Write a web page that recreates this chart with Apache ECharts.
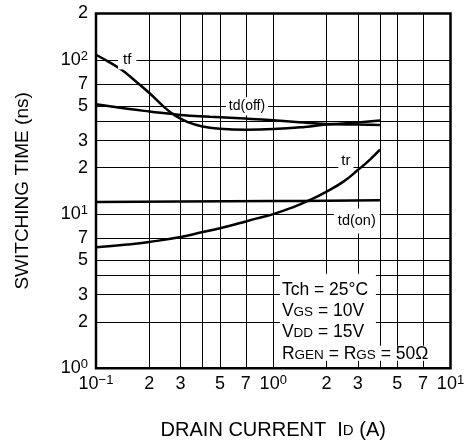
<!DOCTYPE html>
<html>
<head>
<meta charset="utf-8">
<script src="https://cdn.jsdelivr.net/npm/echarts@6/dist/echarts.min.js"></script>
<style>
  html, body { margin: 0; padding: 0; background: #fff; }
  #chart { width: 469px; height: 443px; }
</style>
</head>
<body>
<div id="chart"></div>
<script>
// Switching time (ns) versus drain current (A), one pair of arrays per curve
const tfCurrent = [0.1, 0.12, 0.14, 0.16, 0.2, 0.24, 0.28, 0.33, 0.4, 0.5, 0.7, 1.0, 1.5, 2, 3, 4];
const tfTime    = [108, 96, 86, 76, 61, 50, 43.5, 39.5, 37, 35.8, 35.3, 35.6, 36.7, 38.1, 39.3, 40.5];

const tdOffCurrent = [0.1, 0.15, 0.2, 0.3, 0.44, 0.65, 1.0, 1.4, 2, 3, 4];
const tdOffTime    = [51.5, 48.2, 46.3, 44, 42.8, 41.8, 40.6, 39.4, 38.4, 38.1, 37.9];

const trCurrent = [0.1, 0.15, 0.2, 0.3, 0.4, 0.5, 0.65, 0.8, 1.0, 1.3, 1.6, 2, 2.5, 3, 3.5, 4];
const trTime    = [6.1, 6.35, 6.6, 7.1, 7.65, 8.1, 8.75, 9.35, 10.0, 11.1, 12.3, 14.0, 16.3, 19.3, 22.5, 26.2];

const tdOnCurrent = [0.1, 0.3, 1, 2, 4];
const tdOnTime    = [12.0, 12.05, 12.15, 12.2, 12.3];

// Grid lines and labelled ticks of the two log axes
const xGridValues  = [0.1, 0.2, 0.3, 0.4, 0.5, 0.7, 1, 2, 3, 4, 5, 7, 10];
const xLabelValues = [0.1, 0.2, 0.3, 0.5, 0.7, 1, 2, 3, 5, 7, 10];
const yGridValues  = [1, 2, 3, 4, 5, 7, 10, 20, 30, 40, 50, 70, 100, 200];
const yLabelValues = [1, 2, 3, 5, 7, 10, 20, 30, 50, 70, 100, 200];

const FONT = '"Liberation Sans", Arial, Helvetica, sans-serif';
const lg = v => Math.log10(v);
const toPairs = (xs, ys) => xs.map((x, i) => [lg(x), lg(ys[i])]);

// Decade ticks as 10 with a superscript exponent, others as the mantissa
function tickText(v) {
  const e = Math.floor(v + 1e-9);
  const m = Math.round(Math.pow(10, v - e));
  if (m === 1) return '{b|10}{s|' + (e < 0 ? '\u2212' + (-e) : e) + '}';
  return '{b|' + m + '}';
}
const tickRich = {
  b: { fontSize: 18, lineHeight: 20, fontFamily: FONT, color: '#000' },
  s: { fontSize: 13, lineHeight: 13, fontFamily: FONT, color: '#000', verticalAlign: 'top' }
};

// Small capitals sitting on the main baseline (G S, D D, G E N)
const smallCaps = { fontSize: 13, lineHeight: 20, fontFamily: FONT, verticalAlign: 'middle', padding: [2, 0, 0, 0] };

const chart = echarts.init(document.getElementById('chart'), null, { renderer: 'canvas' });

const curveStyle = { color: '#000', width: 2.5 };
function curve(name, xs, ys) {
  return {
    name, type: 'line', data: toPairs(xs, ys),
    showSymbol: false, smooth: 0.5,
    lineStyle: curveStyle, z: 5, silent: true
  };
}

chart.setOption({
  animation: false,
  backgroundColor: '#fff',
  grid: {
    left: 96, top: 13.5, width: 354.5, height: 354.8,
    show: true, borderColor: '#000', borderWidth: 2.5, backgroundColor: 'transparent',
    containLabel: false, outerBoundsMode: 'none'
  },
  xAxis: {
    type: 'value', min: lg(0.1), max: lg(10),
    axisLine: { show: false },
    axisTick: { show: false, customValues: xGridValues.map(lg) },
    splitLine: { show: true, lineStyle: { color: '#000', width: 1 } },
    axisLabel: {
      customValues: xLabelValues.map(lg), margin: 6,
      formatter: tickText, rich: tickRich, color: '#000'
    },
    name: 'DRAIN CURRENT  I{s|D} (A)',
    nameLocation: 'middle', nameGap: 50,
    nameTextStyle: {
      color: '#000', fontSize: 20, fontFamily: FONT, lineHeight: 24,
      rich: { s: Object.assign({}, smallCaps, { fontSize: 15, lineHeight: 24, color: '#000' }) }
    }
  },
  yAxis: {
    type: 'value', min: lg(1), max: lg(200),
    axisLine: { show: false },
    axisTick: { show: false, customValues: yGridValues.map(lg) },
    splitLine: { show: true, lineStyle: { color: '#000', width: 1 } },
    axisLabel: {
      customValues: yLabelValues.map(lg), margin: 8,
      formatter: tickText, rich: tickRich, color: '#000'
    },
    name: 'SWITCHING TIME (ns)',
    nameLocation: 'middle', nameGap: 64, nameRotate: 90,
    nameTextStyle: { color: '#000', fontSize: 19, fontFamily: FONT }
  },
  series: [
    curve('tf', tfCurrent, tfTime),
    curve('td(off)', tdOffCurrent, tdOffTime),
    curve('tr', trCurrent, trTime),
    curve('td(on)', tdOnCurrent, tdOnTime)
  ]
});

// Curve names and test conditions, placed in data space
const px = (x, y) => chart.convertToPixel({ gridIndex: 0 }, [lg(x), lg(y)]);

function tag(text, x, y, size, pad) {
  const p = px(x, y);
  return {
    type: 'text', x: p[0], y: p[1], z: 100, silent: true,
    style: {
      text, fontSize: size, fontFamily: FONT, fill: '#000',
      align: 'center', verticalAlign: 'middle',
      backgroundColor: '#fff', padding: pad
    }
  };
}

const corner = px(1.09, 4.1);
const rowStyle = (text, dy) => ({
  type: 'text', x: corner[0] + 2, y: corner[1] + dy, z: 101, silent: true,
  style: {
    text, fontSize: 17.5, fontFamily: FONT, fill: '#000', lineHeight: 20,
    align: 'left', verticalAlign: 'middle',
    rich: { s: Object.assign({}, smallCaps, { fontSize: 13.5, fill: '#000' }) }
  }
});

chart.setOption({
  graphic: [
    tag('tf', 0.150, 100, 15, [2, 5]),
    tag('td(off)', 0.711, 50, 14, [2, 3]),
    tag('tr', 2.57, 22.3, 15, [2, 3]),
    tag('td(on)', 2.96, 9.02, 14.5, [5, 4]),
    { type: 'rect', z: 99, silent: true,
      shape: { x: corner[0], y: corner[1], width: 96, height: 72 },
      style: { fill: '#fff' } },
    { type: 'rect', z: 99, silent: true,
      shape: { x: corner[0], y: corner[1] + 72, width: 152, height: 15 },
      style: { fill: '#fff' } },
    rowStyle('Tch = 25\u00b0C', 16),
    rowStyle('V{s|GS} = 10V', 37.7),
    rowStyle('V{s|DD} = 15V', 58.7),
    rowStyle('R{s|GEN} = R{s|GS} = 50\u03a9', 80)
  ]
});
</script>
</body>
</html>
